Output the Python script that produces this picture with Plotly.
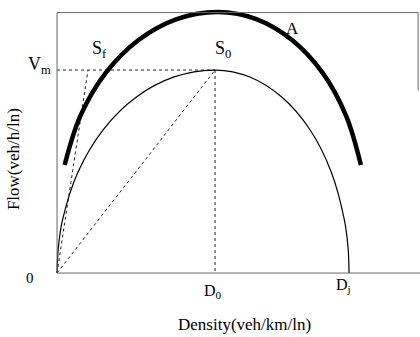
import plotly.graph_objects as go

# Key points of the diagram (density as multiple of D0, flow as multiple of Vm)
D0 = 1.0
DJ = 1.848
VM = 1.0
SF_DENSITY = 0.196

# Thin flow-density curve
thin_x = [0, 0.008, 0.034, 0.134, 0.293, 0.5, 0.741, 1.0, 1.22, 1.424, 1.60, 1.734, 1.819, 1.842, 1.848]
thin_y = [0, 0.122, 0.259, 0.5, 0.707, 0.866, 0.966, 1.0, 0.966, 0.866, 0.707, 0.5, 0.259, 0.122, 0]

# Thick curve A
thick_x = [0.048, 0.147, 0.308, 0.516, 0.758, 1.019, 1.261, 1.487, 1.681, 1.830, 1.923]
thick_y = [0.532, 0.773, 0.986, 1.148, 1.251, 1.286, 1.251, 1.148, 0.986, 0.773, 0.532]

FONT = 'Liberation Serif'


def main():
    fig = go.Figure()

    dash = dict(color='#222222', width=1, dash='3px,3px')
    # dashed guides
    fig.add_trace(go.Scatter(x=[0, D0], y=[VM, VM], mode='lines', line=dash))
    fig.add_trace(go.Scatter(x=[D0, D0], y=[VM, 0], mode='lines', line=dash))
    fig.add_trace(go.Scatter(x=[0, D0], y=[0, VM], mode='lines', line=dash))
    fig.add_trace(go.Scatter(x=[0, SF_DENSITY], y=[0, VM], mode='lines', line=dash))

    fig.add_trace(go.Scatter(x=thin_x, y=thin_y, mode='lines', line_shape='spline',
                             line=dict(color='black', width=1.2)))
    fig.add_trace(go.Scatter(x=thick_x, y=thick_y, mode='lines', line_shape='spline',
                             line=dict(color='black', width=4.5)))

    # frame of the plot
    frame = dict(color='#666666', width=1)
    fig.add_shape(type='line', x0=0, x1=2.297, y0=0, y1=0, line=frame)
    fig.add_shape(type='line', x0=0, x1=0, y0=0, y1=1.283, line=frame)
    fig.add_shape(type='line', x0=0, x1=2.285, y0=1.283, y1=1.283, line=frame)
    fig.add_shape(type='line', x0=2.285, x1=2.285, y0=1.283, y1=0.90, line=frame)

    labels = [
        ('V<sub>m</sub>', -0.114, 1.02, 18),
        ('S<sub>f</sub>', 0.27, 1.10, 18),
        ('S<sub>0</sub>', 1.05, 1.10, 18),
        ('A', 1.487, 1.205, 17),
        ('0', -0.171, -0.025, 15),
        ('D<sub>0</sub>', 0.99, -0.09, 16),
        ('D<sub>j</sub>', 1.81, -0.06, 16),
    ]
    for text, x, y, size in labels:
        fig.add_annotation(x=x, y=y, text=text, showarrow=False,
                           font=dict(family=FONT, size=size, color='black'))

    fig.add_annotation(x=(244 - 57) / 158, y=(273 - 324) / 203, text='Density(veh/km/ln)',
                       showarrow=False, font=dict(family=FONT, size=17, color='black'))
    fig.add_annotation(x=(13 - 57) / 158, y=(273 - 159) / 203, text='Flow(veh/h/ln)',
                       showarrow=False, textangle=-90,
                       font=dict(family=FONT, size=17, color='black'))

    fig.update_layout(
        width=420, height=337,
        margin=dict(l=0, r=0, t=0, b=0),
        paper_bgcolor='white', plot_bgcolor='white',
        showlegend=False,
        xaxis=dict(range=[-0.361, 2.297], visible=False, fixedrange=True),
        yaxis=dict(range=[-0.315, 1.345], visible=False, fixedrange=True),
    )
    fig.write_html('out.html', config={'displayModeBar': False},
                   post_script="document.body.style.margin='0';")


if __name__ == '__main__':
    main()
